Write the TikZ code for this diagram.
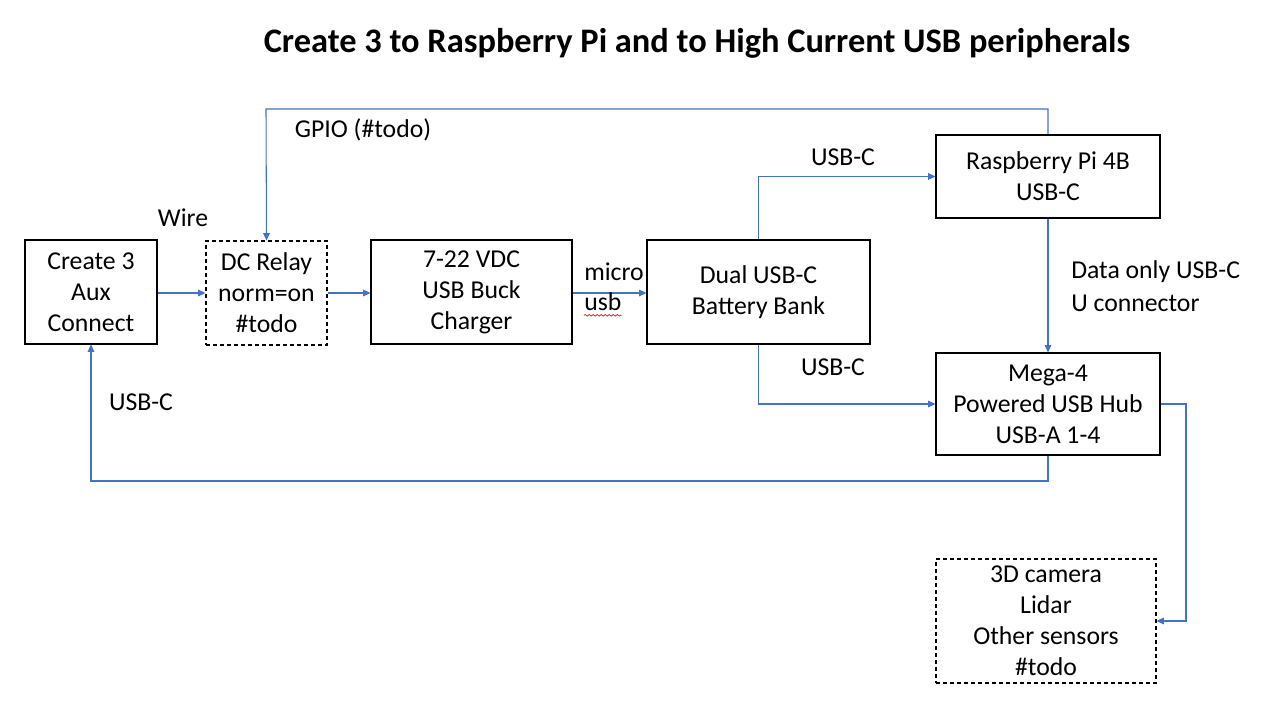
\documentclass[tikz,border=0pt]{standalone}
\usepackage{fontspec}
\setmainfont{Carlito}
\usetikzlibrary{arrows.meta,decorations.pathmorphing}
\definecolor{lnblue}{HTML}{4472C4}
\tikzset{
  box/.style={draw=black, line width=0.8pt, rectangle, inner sep=0pt, align=center,
    font=\fontsize{19.3}{23.25}\selectfont},
  dbox/.style={box, dashed, dash pattern=on 3pt off 2.25pt},
  conn/.style={draw=lnblue, line width=0.8pt, -{Triangle[length=5.5pt,width=5pt]}},
  lbl/.style={inner sep=0pt, font=\fontsize{19.3}{23.25}\selectfont},
}
\begin{document}
\begin{tikzpicture}[x=0.75pt,y=-0.75pt]
\useasboundingbox (0,0) rectangle (1265,705);
\node[inner sep=0pt, font=\bfseries\fontsize{25.8}{30}\selectfont] (title) at (697,43) {Create 3 to Raspberry Pi and to High Current USB peripherals};

\node[box, minimum width=132*0.75pt, minimum height=104*0.75pt] (c3) at (91,292) {Create 3\\Aux\\Connect};
\node[dbox, minimum width=121*0.75pt, minimum height=104*0.75pt] (relay) at (266.5,293) {DC Relay\\norm=on\\\#todo};
\node[box, minimum width=201*0.75pt, minimum height=104*0.75pt] (buck) at (471.5,292) {7-22 VDC\\USB Buck\\Charger};
\node[box, minimum width=223*0.75pt, minimum height=104*0.75pt] (dual) at (758.5,292) {Dual USB-C\\Battery Bank};
\node[box, minimum width=224*0.75pt, minimum height=83*0.75pt] (rpi) at (1048,176.5) {Raspberry Pi 4B\\USB-C};
\node[box, minimum width=224*0.75pt, minimum height=102*0.75pt] (mega) at (1048,404) {Mega-4\\Powered USB Hub\\USB-A 1-4};
\node[dbox, minimum width=220*0.75pt, minimum height=124*0.75pt] (cam) at (1046,621) {3D camera\\Lidar\\Other sensors\\\#todo};

\coordinate (gpioT) at (266,109);
\coordinate (botL) at (91,481);
\coordinate (rtR) at (1186,404);

\draw[conn] (c3.east |- 0,293) -- (relay.west);
\draw[conn] (relay.east) -- (buck.west |- 0,293);
\draw[conn] (buck.east |- 0,293) -- (dual.west |- 0,293);
\draw[conn] (dual.north) |- (rpi.west);
\draw[conn] (dual.south) |- (mega.west);
\draw[conn] (rpi.south) -- (mega.north);
\draw[conn] (rpi.north) |- (gpioT) -- (relay.north);
\draw[conn] (mega.south) |- (botL) -- (c3.south);
\draw[conn] (mega.east) -- (rtR) |- (cam.east);

\node[lbl] (wire) at (183,218) {Wire};
\node[lbl] (gpio) at (363,130) {GPIO (\#todo)};
\node[lbl, anchor=west] (micro) at (584,272) {micro};
\node[lbl, anchor=west] (usb) at (584,302) {usb};
\draw[red, line width=0.5pt, decorate, decoration={snake, amplitude=0.6pt, segment length=3pt}] ([yshift=-3pt]usb.south west) -- ([yshift=-3pt]usb.south east);
\node[lbl] (uc1) at (843,157) {USB-C};
\node[lbl] (uc2) at (833,367) {USB-C};
\node[lbl] (uc3) at (141,402) {USB-C};
\node[lbl, anchor=west] (data1) at (1071,272) {Data only USB-C};
\node[lbl, anchor=west] (data2) at (1071,303) {U connector};
\end{tikzpicture}
\end{document}
